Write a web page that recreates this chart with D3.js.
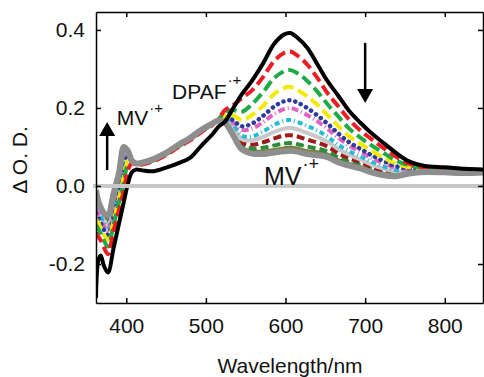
<!DOCTYPE html>
<html>
<head>
<meta charset="utf-8">
<script src="https://cdn.jsdelivr.net/npm/d3@7"></script>
<style>
  body { margin: 0; background: #fff; }
  svg { display: block; font-family: "Liberation Sans", Arial, sans-serif; }
</style>
</head>
<body>
<svg id="chart" width="484" height="377"></svg>
<script>
// wavelength grid (nm)
const wavelength = [362, 365, 368, 372, 377, 384, 391, 397, 402, 407, 412, 420, 435, 450, 465, 480, 495, 508, 516, 524,
  533, 545, 558, 572, 586, 598, 606, 615, 627, 640, 653, 666, 680, 694, 708, 722, 738, 755, 775, 800, 825, 850];

// ΔO.D. spectra, first (black) to last (grey)
const trace0 = [-0.287, -0.19, -0.178, -0.205, -0.222, -0.16, -0.095, -0.04, 0.005, 0.035, 0.042, 0.04, 0.038, 0.047, 0.058, 0.072, 0.105, 0.132, 0.152, 0.165,
  0.195, 0.235, 0.27, 0.315, 0.365, 0.388, 0.392, 0.38, 0.355, 0.312, 0.268, 0.232, 0.192, 0.162, 0.135, 0.112, 0.086, 0.063, 0.051, 0.048, 0.044, 0.042];
const trace1 = [-0.12, -0.13, -0.14, -0.158, -0.175, -0.115, -0.06, -0.01, 0.04, 0.058, 0.055, 0.055, 0.064, 0.079, 0.099, 0.117, 0.139, 0.156, 0.172, 0.195,
  0.205, 0.225, 0.245, 0.28, 0.321, 0.341, 0.345, 0.334, 0.312, 0.277, 0.237, 0.205, 0.17, 0.142, 0.12, 0.099, 0.076, 0.057, 0.048, 0.046, 0.042, 0.039];
const trace2 = [-0.1, -0.11, -0.122, -0.14, -0.155, -0.1, -0.04, 0.01, 0.055, 0.06, 0.056, 0.057, 0.066, 0.081, 0.101, 0.119, 0.141, 0.158, 0.172, 0.188,
  0.195, 0.19, 0.21, 0.241, 0.277, 0.294, 0.297, 0.289, 0.27, 0.242, 0.209, 0.179, 0.147, 0.124, 0.104, 0.086, 0.066, 0.053, 0.046, 0.044, 0.04, 0.038];
const trace3 = [-0.085, -0.095, -0.108, -0.125, -0.138, -0.09, -0.03, 0.025, 0.065, 0.062, 0.057, 0.058, 0.067, 0.082, 0.102, 0.12, 0.142, 0.159, 0.171, 0.18,
  0.182, 0.169, 0.182, 0.206, 0.236, 0.251, 0.254, 0.246, 0.23, 0.208, 0.181, 0.154, 0.127, 0.108, 0.09, 0.074, 0.058, 0.048, 0.044, 0.042, 0.039, 0.037];
const trace4 = [-0.07, -0.082, -0.096, -0.112, -0.125, -0.08, -0.02, 0.04, 0.075, 0.063, 0.057, 0.058, 0.068, 0.083, 0.103, 0.121, 0.143, 0.159, 0.17, 0.175,
  0.17, 0.153, 0.16, 0.18, 0.204, 0.217, 0.22, 0.214, 0.2, 0.181, 0.159, 0.135, 0.112, 0.095, 0.079, 0.065, 0.051, 0.045, 0.041, 0.04, 0.037, 0.036];
const trace5 = [-0.06, -0.073, -0.087, -0.103, -0.115, -0.07, -0.01, 0.05, 0.08, 0.064, 0.057, 0.058, 0.068, 0.083, 0.103, 0.121, 0.143, 0.159, 0.17, 0.172,
  0.165, 0.144, 0.147, 0.164, 0.185, 0.197, 0.2, 0.194, 0.182, 0.166, 0.146, 0.124, 0.103, 0.088, 0.072, 0.059, 0.047, 0.043, 0.041, 0.039, 0.036, 0.035];
const trace6 = [-0.05, -0.063, -0.078, -0.093, -0.105, -0.06, 0.0, 0.06, 0.083, 0.064, 0.057, 0.059, 0.069, 0.084, 0.104, 0.122, 0.144, 0.16, 0.17, 0.17,
  0.16, 0.129, 0.127, 0.14, 0.157, 0.167, 0.169, 0.164, 0.154, 0.142, 0.126, 0.106, 0.089, 0.076, 0.062, 0.051, 0.041, 0.04, 0.039, 0.038, 0.035, 0.035];
const trace7 = [-0.045, -0.058, -0.072, -0.088, -0.1, -0.055, 0.01, 0.07, 0.085, 0.064, 0.057, 0.059, 0.069, 0.084, 0.104, 0.122, 0.144, 0.16, 0.169, 0.168,
  0.155, 0.12, 0.117, 0.126, 0.139, 0.147, 0.149, 0.145, 0.136, 0.126, 0.113, 0.095, 0.08, 0.068, 0.055, 0.045, 0.037, 0.038, 0.038, 0.037, 0.035, 0.035];
const trace8 = [-0.04, -0.054, -0.068, -0.084, -0.095, -0.05, 0.015, 0.075, 0.087, 0.065, 0.057, 0.059, 0.069, 0.084, 0.104, 0.122, 0.144, 0.16, 0.169, 0.167,
  0.15, 0.112, 0.106, 0.112, 0.122, 0.129, 0.13, 0.127, 0.119, 0.111, 0.101, 0.084, 0.071, 0.061, 0.049, 0.04, 0.033, 0.036, 0.037, 0.036, 0.034, 0.035];
const trace9 = [-0.035, -0.05, -0.064, -0.08, -0.09, -0.04, 0.02, 0.08, 0.088, 0.065, 0.057, 0.059, 0.069, 0.084, 0.104, 0.122, 0.144, 0.16, 0.169, 0.166,
  0.145, 0.104, 0.096, 0.098, 0.104, 0.109, 0.11, 0.107, 0.101, 0.096, 0.088, 0.073, 0.062, 0.054, 0.043, 0.034, 0.03, 0.034, 0.036, 0.035, 0.034, 0.035];
const trace10 = [-0.03, -0.046, -0.06, -0.076, -0.085, -0.035, 0.025, 0.085, 0.089, 0.065, 0.057, 0.059, 0.069, 0.084, 0.104, 0.122, 0.144, 0.16, 0.168, 0.164,
  0.14, 0.1, 0.089, 0.089, 0.093, 0.097, 0.099, 0.096, 0.09, 0.087, 0.081, 0.067, 0.057, 0.049, 0.038, 0.031, 0.027, 0.033, 0.036, 0.035, 0.033, 0.035];
const trace11 = [-0.025, -0.044, -0.058, -0.074, -0.082, -0.03, 0.028, 0.09, 0.09, 0.065, 0.057, 0.059, 0.069, 0.084, 0.104, 0.122, 0.144, 0.16, 0.168, 0.163,
  0.138, 0.097, 0.086, 0.085, 0.089, 0.093, 0.094, 0.092, 0.086, 0.083, 0.077, 0.064, 0.054, 0.047, 0.036, 0.029, 0.026, 0.032, 0.036, 0.035, 0.033, 0.035];
const trace12 = [-0.018, -0.042, -0.056, -0.072, -0.078, -0.025, 0.032, 0.095, 0.09, 0.065, 0.057, 0.059, 0.069, 0.084, 0.104, 0.122, 0.144, 0.16, 0.168, 0.162,
  0.136, 0.095, 0.084, 0.083, 0.087, 0.09, 0.091, 0.089, 0.083, 0.08, 0.075, 0.062, 0.052, 0.045, 0.035, 0.028, 0.025, 0.032, 0.036, 0.035, 0.033, 0.035];
const trace13 = [-0.01, -0.04, -0.055, -0.07, -0.075, -0.02, 0.035, 0.1, 0.09, 0.065, 0.058, 0.06, 0.07, 0.085, 0.105, 0.123, 0.145, 0.16, 0.168, 0.162,
  0.135, 0.094, 0.083, 0.082, 0.086, 0.089, 0.09, 0.088, 0.082, 0.079, 0.074, 0.061, 0.052, 0.045, 0.035, 0.028, 0.025, 0.032, 0.036, 0.035, 0.033, 0.035];

const xTicks = [400, 500, 600, 700, 800];
const yTicks = [-0.2, 0.0, 0.2, 0.4];

const traces = [trace0, trace1, trace2, trace3, trace4, trace5, trace6, trace7, trace8, trace9, trace10, trace11, trace12, trace13];
// styles: colour, width, dash
const styles = [
  ['#000000', 4, null],
  ['#ee1c24', 4, '11,5'],
  ['#1faa48', 4, '11,5'],
  ['#f2ea00', 4, '11,5'],
  ['#2e3b9e', 4.5, '0.1,6'],
  ['#e262c2', 4, '7,3,1,3'],
  ['#22bcd4', 4, '5,3,1,3'],
  ['#c8c8c8', 4, null],
  ['#9e1b1b', 4, '8,4'],
  ['#2c8c3c', 4, '8,4'],
  ['#7d7d3a', 3.5, null],
  ['#33339a', 3.5, '0.1,5'],
  ['#8e44ad', 3, null],
  ['#8e8e8e', 6, null],
];

const svg = d3.select('#chart');
const mLeft = 96, mRight = 483, mTop = 12, mBottom = 303;
const x = d3.scaleLinear().domain([362, 848]).range([mLeft, mRight]);
const y = d3.scaleLinear().domain([-0.3, 0.446]).range([mBottom, mTop]);

svg.append('defs').append('clipPath').attr('id', 'plot')
  .append('rect').attr('x', mLeft).attr('y', mTop).attr('width', mRight - mLeft).attr('height', mBottom - mTop);

const line = d3.line()
  .x((d, i) => x(wavelength[i]))
  .y(d => y(d))
  .curve(d3.curveCatmullRom.alpha(0.5));

const g = svg.append('g').attr('clip-path', 'url(#plot)');
// draw later traces first, then grey, then black on top
const order = [12, 11, 10, 9, 8, 7, 6, 5, 4, 3, 2, 1, 13, 0];
order.forEach(k => {
  const [color, w, dash] = styles[k];
  g.append('path')
    .attr('d', line(traces[k]))
    .attr('fill', 'none')
    .attr('stroke', color)
    .attr('stroke-width', w)
    .attr('stroke-linecap', dash && dash.startsWith('0.1') ? 'round' : 'butt')
    .attr('stroke-linejoin', 'round')
    .attr('stroke-dasharray', dash);
});

// zero line
svg.append('line')
  .attr('x1', x(362) - 3).attr('x2', mRight)
  .attr('y1', y(0)).attr('y2', y(0))
  .attr('stroke', '#c8c8c8').attr('stroke-width', 4);

// frame with inward ticks
const fmt = d => d.toFixed(1);
svg.append('g').attr('transform', `translate(0,${mBottom})`)
  .call(d3.axisBottom(x).tickValues(xTicks).tickSizeInner(-5).tickSizeOuter(0).tickPadding(15));
svg.append('g').attr('transform', `translate(0,${mTop})`)
  .call(d3.axisTop(x).tickValues(xTicks).tickSizeInner(-5).tickSizeOuter(0).tickFormat(''));
svg.append('g').attr('transform', `translate(${mLeft},0)`)
  .call(d3.axisLeft(y).tickValues(yTicks).tickSizeInner(-5).tickSizeOuter(0).tickPadding(11).tickFormat(fmt));
svg.append('g').attr('transform', `translate(${mRight},0)`)
  .call(d3.axisRight(y).tickValues(yTicks).tickSizeInner(-5).tickSizeOuter(0).tickFormat(''));

svg.selectAll('.domain, .tick line').attr('stroke', '#000').attr('stroke-width', 1.5);
svg.selectAll('.tick text').attr('font-size', 21).attr('fill', '#111')
  .attr('font-family', '"Liberation Sans", Arial, sans-serif');

// axis titles
svg.append('text')
  .attr('x', 290).attr('y', 373)
  .attr('text-anchor', 'middle').attr('font-size', 21).attr('fill', '#111')
  .text('Wavelength/nm');
svg.append('text')
  .attr('transform', 'translate(27,160) rotate(-90)')
  .attr('text-anchor', 'middle').attr('font-size', 21).attr('fill', '#111')
  .text('Δ O. D.');

// annotations
function label(lx, ly, main, size, supSize, supDy) {
  const t = svg.append('text')
    .attr('x', x(lx)).attr('y', y(ly))
    .attr('font-size', size).attr('fill', '#111');
  t.append('tspan').text(main);
  t.append('tspan').attr('font-size', supSize).attr('dx', 1).attr('dy', supDy).text('·+');
}
label(388, 0.156, 'MV', 21, 15, -12);
label(457.5, 0.223, 'DPAF', 21, 15, -14);
label(573, 0.003, 'MV', 25, 18, -15);

function arrow(ax, from, to) {
  const x0 = x(ax), y0 = y(from), y1 = y(to);
  const dir = y1 < y0 ? 1 : -1;
  svg.append('line')
    .attr('x1', x0).attr('x2', x0)
    .attr('y1', y0).attr('y2', y1 + dir * 12)
    .attr('stroke', '#000').attr('stroke-width', 2.5);
  svg.append('path')
    .attr('d', `M${x0 - 8},${y1 + dir * 14}L${x0 + 8},${y1 + dir * 14}L${x0},${y1}Z`)
    .attr('fill', '#000');
}
arrow(376, 0.041, 0.164);
arrow(700, 0.367, 0.213);
</script>
</body>
</html>
